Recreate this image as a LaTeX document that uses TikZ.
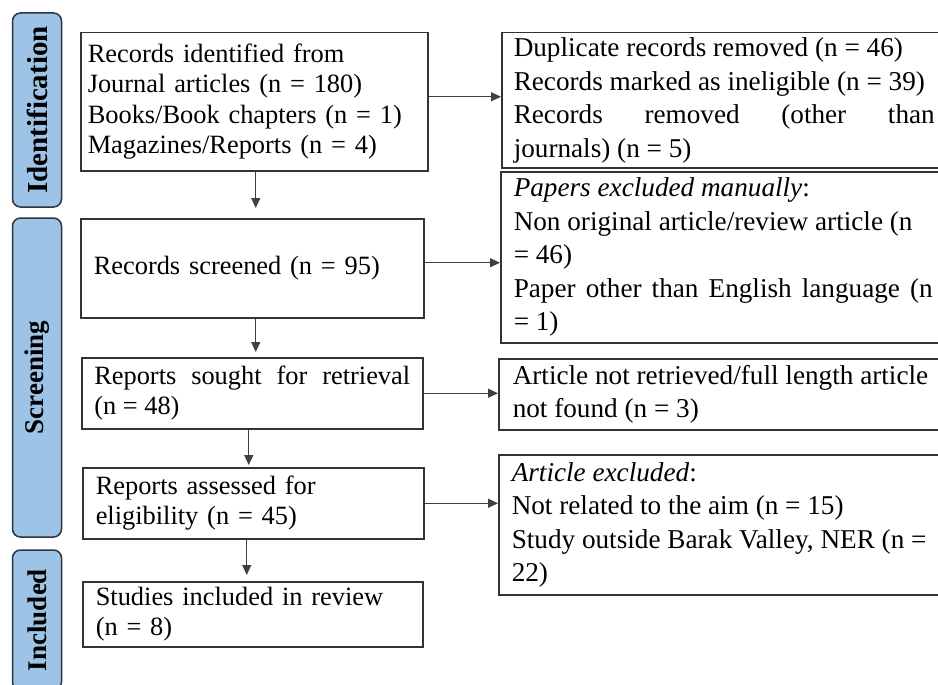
\documentclass[tikz,border=0pt]{standalone}
\usepackage{fontspec}
\setmainfont{Liberation Serif}
\usetikzlibrary{arrows.meta}
\definecolor{barfill}{HTML}{9DC3E6}
\definecolor{barline}{HTML}{2E3440}
\definecolor{boxline}{HTML}{333333}
\definecolor{arrline}{HTML}{404040}
\hyphenpenalty=10000
\exhyphenpenalty=10000
\begin{document}
\begin{tikzpicture}[x=1pt,y=-1pt,
  every node/.style={font=\fontsize{26.4}{30.5}\selectfont},
  box/.style={draw=boxline, line width=1.5pt, inner ysep=0pt, anchor=north west},
  rbox/.style={box, align=justify, font=\fontsize{27.2}{33.5}\selectfont},
  bar/.style={draw=barline, fill=barfill, line width=1.5pt, rounded corners=8pt,
    rotate=90, inner sep=0pt, minimum height=49pt, font=\fontsize{27}{31}\selectfont\bfseries},
  arr/.style={draw=arrline, line width=1pt, -{Triangle[length=10pt,width=9pt]}}]
\clip (0,0) rectangle (938,685);
% phase bars
\node[bar, minimum width=194pt, font=\fontsize{29}{31}\selectfont\bfseries] (idbar) at (37,110) {Identification\hspace{12pt}};
\node[bar, minimum width=319pt] (scbar) at (37,377.5) {Screening};
\node[bar, minimum width=140pt] (inbar) at (37,620) {Included};
% left boxes
\node[box, inner xsep=7pt, text width=333pt, minimum height=138pt] (b1) at (80,32)
  {Records identified from\\Journal articles (n = 180)\\Books/Book chapters (n = 1)\\Magazines/Reports (n = 4)};
\node[box, inner xsep=13pt, text width=317pt, minimum height=99pt] (b2) at (80,218)
  {Records screened (n = 95)};
\node[box, align=justify, inner xsep=12.5pt, text width=316pt, minimum height=71pt] (b3) at (81,357)
  {Reports sought for retrieval\linebreak (n = 48)};
\node[box, inner xsep=13pt, text width=315pt, minimum height=71pt] (b4) at (82,467)
  {Reports assessed for\\eligibility (n = 45)};
\node[box, inner xsep=13pt, text width=314pt, minimum height=65pt] (b5) at (82,581)
  {Studies included in review\\(n = 8)};
% right boxes
\node[rbox, inner xsep=12pt, text width=421pt, minimum height=135pt] (r1) at (501,32)
  {Duplicate records removed (n = 46)\par Records marked as ineligible (n = 39)\par Records removed (other than\linebreak journals) (n = 5)};
\node[rbox, inner xsep=13pt, text width=419pt, minimum height=171pt] (r2) at (500,171)
  {\textit{Papers excluded manually}:\par Non original article/review article (n\newline = 46)\par Paper other than English language (n\linebreak = 1)};
\node[rbox, inner xsep=14pt, text width=432pt, minimum height=71pt] (r3) at (498,358)
  {Article not retrieved/full length article\newline not found (n = 3)};
\node[rbox, inner xsep=13pt, text width=432pt, minimum height=140pt] (r4) at (498,454)
  {\textit{Article excluded}:\par Not related to the aim (n = 15)\par Study outside Barak Valley, NER (n =\newline 22)};
% vertical arrows
\draw[arr, shorten >=10pt] ([xshift=1.5pt]b1.south) -- ([xshift=1.5pt]b1.south |- b2.north);
\draw[arr, shorten >=5pt] ([xshift=3.5pt]b2.south) -- ([xshift=3.5pt]b2.south |- b3.north);
\draw[arr, shorten >=2pt] ([xshift=-3.5pt]b3.south) -- ([xshift=-3.5pt]b3.south |- b4.north);
\draw[arr, shorten >=6pt] ([xshift=-6.5pt]b4.south) -- ([xshift=-6.5pt]b4.south |- b5.north);
% horizontal arrows
\draw[arr] ([yshift=5pt]b1.east) -- ([yshift=5pt]b1.east -| r1.west);
\draw[arr] ([yshift=5.5pt]b2.east) -- ([yshift=5.5pt]b2.east -| r2.west);
\draw[arr] (b3.east) -- (b3.east -| r3.west);
\draw[arr] (b4.east) -- (b4.east -| r4.west);
\end{tikzpicture}
\end{document}
